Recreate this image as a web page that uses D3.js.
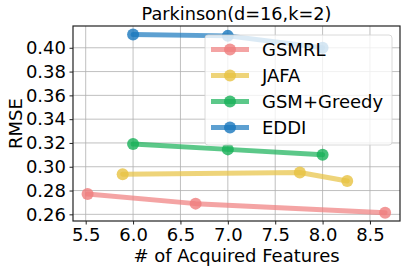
<!DOCTYPE html>
<meta charset="utf-8">
<script src="https://d3js.org/d3.v7.min.js"></script>
<style>
  body { margin: 0; background: #fff; }
  text { font-family: 'DejaVu Sans', sans-serif; fill: #000; }
</style>
<body>
<svg width="407" height="273"></svg>
<script>
// series (x = # of acquired features, y = RMSE)
var series = ["GSMRL", "JAFA", "GSM+Greedy", "EDDI"];
var colors = ["#ef7d7d", "#e7c241", "#17b057", "#1877bd"];
var gsmrlX = [5.52, 6.66, 8.66], gsmrlY = [0.277, 0.269, 0.2614];
var jafaX = [5.89, 7.76, 8.26], jafaY = [0.2937, 0.2952, 0.2880];
var greedyX = [6.0, 7.0, 8.0], greedyY = [0.3191, 0.3146, 0.3100];
var eddiX = [6.0, 7.0, 8.0], eddiY = [0.4112, 0.4100, 0.4000];
var xTicks = [5.5, 6.0, 6.5, 7.0, 7.5, 8.0, 8.5];
var yTicks = [0.26, 0.28, 0.30, 0.32, 0.34, 0.36, 0.38, 0.40];

var allX = [gsmrlX, jafaX, greedyX, eddiX];
var allY = [gsmrlY, jafaY, greedyY, eddiY];

var svg = d3.select("svg");
var m = {left: 73, right: 400, top: 26, bottom: 221};

var x = d3.scaleLinear().domain([5.366, 8.817]).range([m.left, m.right]);
var y = d3.scaleLinear().domain([0.2544, 0.4183]).range([m.bottom, m.top]);

// grid
svg.append("g").selectAll("line").data(xTicks).join("line")
  .attr("x1", d => x(d)).attr("x2", d => x(d))
  .attr("y1", m.top).attr("y2", m.bottom)
  .attr("stroke", "#b0b0b0").attr("stroke-width", 0.8);
svg.append("g").selectAll("line").data(yTicks).join("line")
  .attr("y1", d => y(d)).attr("y2", d => y(d))
  .attr("x1", m.left).attr("x2", m.right)
  .attr("stroke", "#b0b0b0").attr("stroke-width", 0.8);

// axes
var xAxis = svg.append("g").attr("transform", "translate(0," + m.bottom + ")")
  .call(d3.axisBottom(x).tickValues(xTicks).tickFormat(d3.format(".1f")).tickSize(3.5).tickPadding(3.5));
var yAxis = svg.append("g").attr("transform", "translate(" + m.left + ",0)")
  .call(d3.axisLeft(y).tickValues(yTicks).tickFormat(d3.format(".2f")).tickSize(3.5).tickPadding(3.5));
[xAxis, yAxis].forEach(function (a) {
  a.select(".domain").remove();
  a.selectAll("text").style("font-size", "18px").style("font-family", "'DejaVu Sans', sans-serif").attr("fill", "#000");
  a.selectAll("line").attr("stroke", "#222").attr("stroke-width", 1);
});

// lines: line and markers drawn separately, both semi-transparent
var line = d3.line().x(d => x(d[0])).y(d => y(d[1]));
series.forEach(function (s, i) {
  var pts = allX[i].map((v, j) => [v, allY[i][j]]);
  svg.append("path").datum(pts).attr("d", line)
    .attr("fill", "none").attr("stroke", colors[i]).attr("stroke-width", 5)
    .attr("stroke-opacity", 0.7)
    .attr("stroke-linecap", "round").attr("stroke-linejoin", "round");
  svg.append("g").selectAll("circle").data(pts).join("circle")
    .attr("cx", d => x(d[0])).attr("cy", d => y(d[1])).attr("r", 6)
    .attr("fill", colors[i]).attr("fill-opacity", 0.8);
});

// frame
svg.append("rect").attr("x", m.left).attr("y", m.top)
  .attr("width", m.right - m.left).attr("height", m.bottom - m.top)
  .attr("fill", "none").attr("stroke", "#222").attr("stroke-width", 1.2);

// legend
var leg = svg.append("g");
leg.append("rect").attr("x", 205).attr("y", 35).attr("width", 187).attr("height", 110)
  .attr("rx", 3).attr("fill", "#fff").attr("fill-opacity", 0.78)
  .attr("stroke", "#d0d0d0").attr("stroke-width", 0.8);
series.forEach(function (s, i) {
  var ly = 49.5 + i * 26;
  leg.append("line").attr("x1", 211).attr("x2", 249).attr("y1", ly).attr("y2", ly)
    .attr("stroke", colors[i]).attr("stroke-width", 5).attr("stroke-opacity", 0.7);
  leg.append("circle").attr("cx", 230).attr("cy", ly).attr("r", 6)
    .attr("fill", colors[i]).attr("fill-opacity", 0.8);
  leg.append("text").attr("x", 262).attr("y", ly + 6.3).style("font-size", "18px").text(s);
});

// titles
svg.append("text").attr("x", (m.left + m.right) / 2).attr("y", 20)
  .attr("text-anchor", "middle").style("font-size", "17.7px").text("Parkinson(d=16,k=2)");
svg.append("text").attr("x", (m.left + m.right) / 2).attr("y", 262)
  .attr("text-anchor", "middle").style("font-size", "18px").text("# of Acquired Features");
svg.append("text").attr("transform", "translate(22," + ((m.top + m.bottom) / 2) + ") rotate(-90)")
  .attr("text-anchor", "middle").style("font-size", "18px").text("RMSE");
</script>
</body>
